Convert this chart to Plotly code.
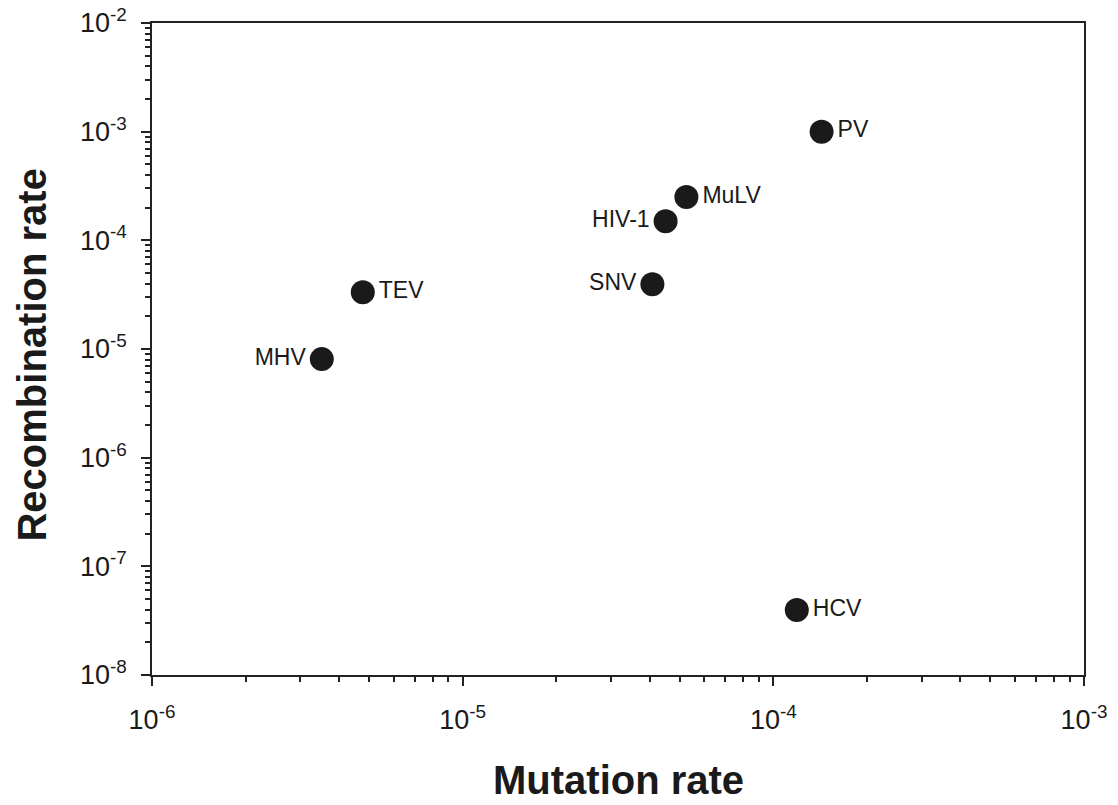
import plotly.graph_objects as go

viruses = ["PV", "MuLV", "HIV-1", "SNV", "TEV", "MHV", "HCV"]
mutation_rate = [1.43e-4, 5.25e-5, 4.5e-5, 4.08e-5, 4.77e-6, 3.52e-6, 1.19e-4]
recombination_rate = [1.0e-3, 2.5e-4, 1.5e-4, 3.95e-5, 3.33e-5, 8.07e-6, 3.96e-8]
label_side = ["middle right", "middle right", "middle left", "middle left",
              "middle right", "middle left", "middle right"]

x_decades = [-6, -5, -4, -3]
y_decades = [-8, -7, -6, -5, -4, -3, -2]

x_title = "Mutation rate"
y_title = "Recombination rate"

FONT = "Liberation Sans, Arial, sans-serif"

def minor_vals(decs):
    vals = []
    for d in decs[:-1]:
        for m in range(2, 10):
            vals.append(m * 10 ** d)
    return vals

fig = go.Figure()
fig.add_trace(go.Scatter(
    x=mutation_rate, y=recombination_rate, mode="markers+text",
    text=viruses, textposition=label_side,
    textfont=dict(family=FONT, size=23, color="#1a1a1a"),
    marker=dict(size=24, color="#1a1a1a"),
    showlegend=False, cliponaxis=False,
))

axis_common = dict(
    type="log", showgrid=False, zeroline=False, automargin=False,
    showline=True, linecolor="#222", linewidth=1.5, mirror=True,
    ticks="outside", ticklen=9, tickwidth=1.5, tickcolor="#222",
    ticklabeloverflow="allow",
    tickfont=dict(family=FONT, size=27, color="#1a1a1a"),
)

fig.update_xaxes(
    **axis_common,
    range=[-6, -3],
    tickmode="array",
    tickvals=[10 ** d for d in x_decades],
    ticktext=["10<sup>%d</sup>" % d for d in x_decades],
    ticklabelstandoff=11,
    minor=dict(tickmode="array", tickvals=minor_vals(x_decades), ticks="outside",
               ticklen=5, tickwidth=1.5, tickcolor="#222", showgrid=False),
)
fig.update_yaxes(
    **axis_common,
    range=[-8, -2],
    tickmode="array",
    tickvals=[10 ** d for d in y_decades],
    ticktext=["10<sup>%d</sup>" % d for d in y_decades],
    ticklabelstandoff=9,
    minor=dict(tickmode="array", tickvals=minor_vals(y_decades), ticks="outside",
               ticklen=5, tickwidth=1.5, tickcolor="#222", showgrid=False),
)

fig.add_annotation(
    text="<b>%s</b>" % x_title, xref="paper", yref="paper", x=0.5, y=0,
    xanchor="center", yanchor="middle", yshift=-105, showarrow=False,
    font=dict(family=FONT, size=40, color="#1a1a1a"),
)
fig.add_annotation(
    text="<b>%s</b>" % y_title, xref="paper", yref="paper", x=0, y=0.49,
    xanchor="center", yanchor="middle", xshift=-120, textangle=-90, showarrow=False,
    font=dict(family=FONT, size=40, color="#1a1a1a"),
)

fig.update_layout(
    width=1118, height=805,
    margin=dict(l=144, r=42, t=15, b=138),
    plot_bgcolor="white", paper_bgcolor="white",
)

fig.write_html("out.html")
